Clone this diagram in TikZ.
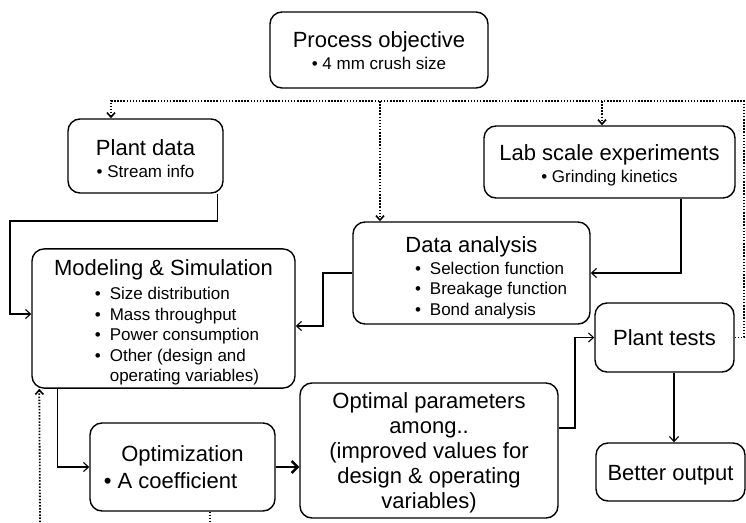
\documentclass[tikz,border=0pt]{standalone}
\usepackage{fontspec}
\setmainfont{Liberation Sans}
\usetikzlibrary{arrows.meta}
\newcommand\tsz{\fontsize{22}{25}\selectfont}
\newcommand\bsz{\fontsize{17}{20.5}\selectfont}
\newcommand\bitem{\textbullet}
\newcommand\lift[1]{\rule{0pt}{#1pt}}
\tikzset{
 box/.style={draw, line width=1.4pt, rounded corners=12pt, align=center, inner sep=0pt},
 conn/.style={line width=1.1pt, -{Straight Barb[length=5pt,width=9pt,line width=1.1pt]}},
 fb/.style={line width=1.8pt, dash pattern=on 1.5pt off 1.6pt},
 fbarrow/.style={fb, -{Straight Barb[length=4.5pt,width=8pt,line width=1.6pt]}},
 thickarrow/.style={line width=2.8pt, -{Straight Barb[length=6pt,width=12pt,line width=2.4pt]}},
}
\begin{document}
\begin{tikzpicture}[x=1pt,y=-1pt]
\useasboundingbox (0,0) rectangle (746,522);

\node[box, minimum width=218pt, minimum height=76pt, font=\tsz] (po) at (379,50)
  {\lift{18}Process objective\\[-3pt]{\bsz\bitem\ 4 mm crush size}};
\node[box, minimum width=155pt, minimum height=74pt, font=\tsz] (pd) at (145.5,156)
  {\lift{22}Plant data\\[-3pt]{\bsz\bitem\ Stream info}};
\node[box, minimum width=251pt, minimum height=72pt, font=\tsz] (lab) at (609.5,162)
  {\lift{23}Lab scale experiments\\[-3pt]{\bsz\bitem\ Grinding kinetics}};
\node[box, minimum width=237pt, minimum height=102pt, font=\tsz] (da) at (471.5,273)
  {\lift{28}Data analysis\\[-3pt]{\bsz\hspace*{39pt}\begin{tabular}[t]{@{}l@{\hspace{9pt}}l@{}}
   \bitem & Selection function\\
   \bitem & Breakage function\\
   \bitem & Bond analysis
  \end{tabular}}};
\node[box, minimum width=263pt, minimum height=137pt, font=\tsz] (ms) at (163.5,318.5)
  {\lift{27}Modeling \& Simulation\\[-1pt]{\bsz\hspace*{27pt}\begin{tabular}[t]{@{}l@{\hspace{9pt}}l@{}}
   \bitem & Size distribution\\
   \bitem & Mass throughput\\
   \bitem & Power consumption\\
   \bitem & Other (design and\\
          & operating variables)
  \end{tabular}}};
\node[box, minimum width=185pt, minimum height=88pt, font=\fontsize{22}{27}\selectfont] (op) at (182.5,467)
  {Optimization\\\hspace*{-24pt}\bitem\ A coefficient};
\node[box, minimum width=258pt, minimum height=135pt, font=\tsz] (par) at (429,450.5)
  {\lift{20}Optimal parameters\\among..\\(improved values for\\design \& operating\\variables)};
\node[box, minimum width=139pt, minimum height=69pt, font=\tsz] (pt) at (664.5,337.5) {Plant tests};
\node[box, minimum width=149pt, minimum height=58pt, font=\tsz] (bo) at (670.5,472) {\lift{22}Better output};

% solid connectors
\draw[conn] ([xshift=-6pt]pd.south east) |- (10,221) |- ([yshift=4.5pt]ms.west);
\draw[conn] ([xshift=71.5pt]lab.south) |- (da.east);
\draw[conn] (da.west) -- (323,273) |- ([yshift=-7.5pt]ms.east);
\draw[conn] ([xshift=26pt]ms.south west) |- (op.west);
\draw[thickarrow] (op.east) -- (op.east -| par.west);
\draw[conn] ([yshift=22.5pt]par.east) -- (575,428) |- (pt.west);
\draw[conn] ([xshift=9.5pt]pt.south) -- ([xshift=9.5pt]pt.south |- bo.north);

% dotted feedback
\coordinate (fbR) at (744,101);
\coordinate (fbL) at (111,101);
\coordinate (fbA) at (380,101);
\coordinate (fbB) at (602,101);
\coordinate (b1) at (40,522);
\coordinate (b2) at (210,522);
\draw[fbarrow] (pt.east) -| (fbR) -- (fbL) -- ([xshift=-34.5pt]pd.north);
\draw[fbarrow] (fbA) -- ([xshift=-91.5pt]da.north);
\draw[fbarrow] (fbB) -- ([xshift=-7.5pt]lab.north);
\draw[fbarrow] (b1) -- ([xshift=8pt]ms.south west);
\draw[fb] ([xshift=27.5pt]op.south) -- (b2);
\end{tikzpicture}
\end{document}
